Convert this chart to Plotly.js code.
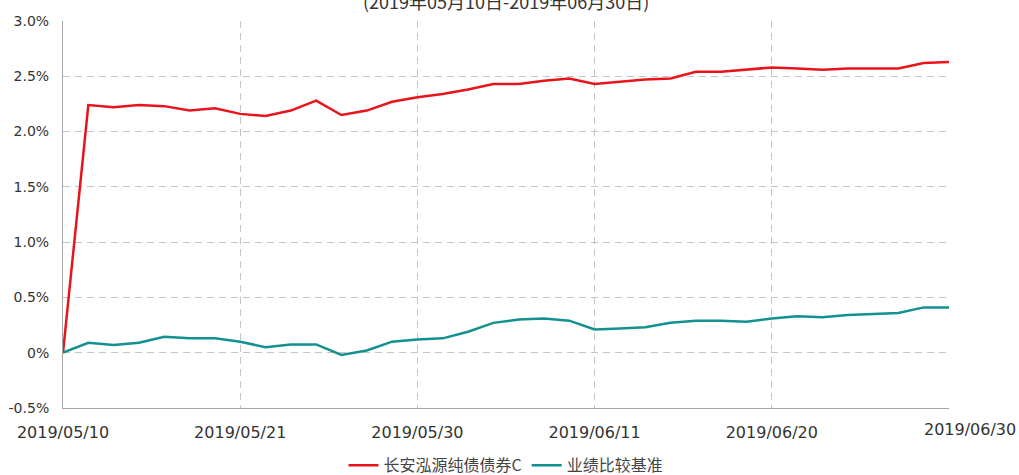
<!DOCTYPE html>
<html>
<head>
<meta charset="utf-8">
<script src="https://cdn.plot.ly/plotly-3.0.1.min.js"></script>
<style>
  html, body { margin: 0; padding: 0; background: #ffffff; }
  #chart { width: 1019px; height: 475px; }
</style>
</head>
<body>
<div id="chart"></div>
<script>
// Trading dates (category axis)
const dates = [
  '2019/05/10','2019/05/13','2019/05/14','2019/05/15','2019/05/16','2019/05/17',
  '2019/05/20','2019/05/21','2019/05/22','2019/05/23','2019/05/24',
  '2019/05/27','2019/05/28','2019/05/29','2019/05/30','2019/05/31',
  '2019/06/03','2019/06/04','2019/06/05','2019/06/06',
  '2019/06/10','2019/06/11','2019/06/12','2019/06/13','2019/06/14',
  '2019/06/17','2019/06/18','2019/06/19','2019/06/20','2019/06/21',
  '2019/06/24','2019/06/25','2019/06/26','2019/06/27','2019/06/28','2019/06/30'
];

// 长安泓源纯债债券C cumulative return (%)
const fundValues = [
  0.00, 2.24, 2.22, 2.24, 2.23, 2.19, 2.21, 2.16, 2.14, 2.19, 2.28,
  2.15, 2.19, 2.27, 2.31, 2.34, 2.38, 2.43, 2.43, 2.46, 2.48,
  2.43, 2.45, 2.47, 2.48, 2.54, 2.54, 2.56, 2.58, 2.57, 2.56,
  2.57, 2.57, 2.57, 2.62, 2.63
];

// 业绩比较基准 cumulative return (%)
const benchValues = [
  0.00, 0.09, 0.07, 0.09, 0.145, 0.13, 0.13, 0.10, 0.05, 0.075, 0.075,
  -0.02, 0.02, 0.10, 0.12, 0.13, 0.19, 0.27, 0.30, 0.31, 0.29,
  0.21, 0.22, 0.23, 0.27, 0.29, 0.29, 0.28, 0.31, 0.33, 0.32,
  0.34, 0.35, 0.36, 0.41, 0.41
];

const seriesNames = ['长安泓源纯债债券C', '业绩比较基准'];
const xTickLabels = ['2019/05/10','2019/05/21','2019/05/30','2019/06/11','2019/06/20','2019/06/30'];
const yTickVals = [-0.5, 0, 0.5, 1.0, 1.5, 2.0, 2.5, 3.0];
const yTickText = ['-0.5%','0%','0.5%','1.0%','1.5%','2.0%','2.5%','3.0%'];
const subtitle = '(2019年05月10日-2019年06月30日)';

const traces = [
  {
    x: dates, y: fundValues, name: seriesNames[0], type: 'scatter', mode: 'lines',
    line: { color: '#e8141b', width: 2.5 }
  },
  {
    x: dates, y: benchValues, name: seriesNames[1], type: 'scatter', mode: 'lines',
    line: { color: '#139090', width: 2.5 }
  }
];

const lastLabel = xTickLabels[xTickLabels.length - 1];
const shownTickText = xTickLabels.map((t, i) => i === xTickLabels.length - 1 ? '' : t);

const layout = {
  width: 1019, height: 475,
  margin: { l: 63, r: 70, t: 21, b: 67, pad: 0, autoexpand: false },
  paper_bgcolor: '#ffffff', plot_bgcolor: '#ffffff',
  showlegend: true,
  legend: {
    orientation: 'h', x: 0.5, xanchor: 'center', y: -0.104, yanchor: 'top',
    font: { family: '"Noto Sans CJK SC", sans-serif', size: 16, color: '#444444' },
    itemwidth: 30, tracegroupgap: 0
  },
  xaxis: {
    type: 'category',
    categoryorder: 'array', categoryarray: dates,
    range: [0, dates.length - 1],
    tickmode: 'array', tickvals: xTickLabels, ticktext: shownTickText,
    showgrid: true, gridcolor: '#c4c4c4', gridwidth: 1, griddash: '7px,5px',
    showline: true, linecolor: '#a6a6a6', linewidth: 1,
    ticks: '', zeroline: false, ticklabelstandoff: 10,
    tickfont: { family: '"DejaVu Sans", sans-serif', size: 16, color: '#333333' },
    fixedrange: true
  },
  yaxis: {
    range: [-0.5, 3.0],
    tickmode: 'array', tickvals: yTickVals, ticktext: yTickText,
    showgrid: true, gridcolor: '#c4c4c4', gridwidth: 1, griddash: '7px,5px',
    showline: true, linecolor: '#a6a6a6', linewidth: 1,
    ticks: '', zeroline: false, ticklabelstandoff: 10,
    tickfont: { family: '"DejaVu Sans", sans-serif', size: 14, color: '#333333' },
    fixedrange: true
  },
  annotations: [
    {
      text: subtitle, xref: 'paper', yref: 'paper', x: 0.5, y: 1, yanchor: 'bottom',
      yshift: 5, showarrow: false,
      font: { family: '"Noto Sans CJK SC", sans-serif', size: 18, color: '#333333' }
    },
    {
      text: lastLabel, xref: 'x', yref: 'paper', x: dates[dates.length - 1], y: 0,
      xanchor: 'right', yanchor: 'top', xshift: 69, yshift: -10, showarrow: false,
      font: { family: '"DejaVu Sans", sans-serif', size: 16, color: '#333333' }
    }
  ]
};

Plotly.newPlot('chart', traces, layout, { displayModeBar: false, staticPlot: true });
</script>
</body>
</html>
